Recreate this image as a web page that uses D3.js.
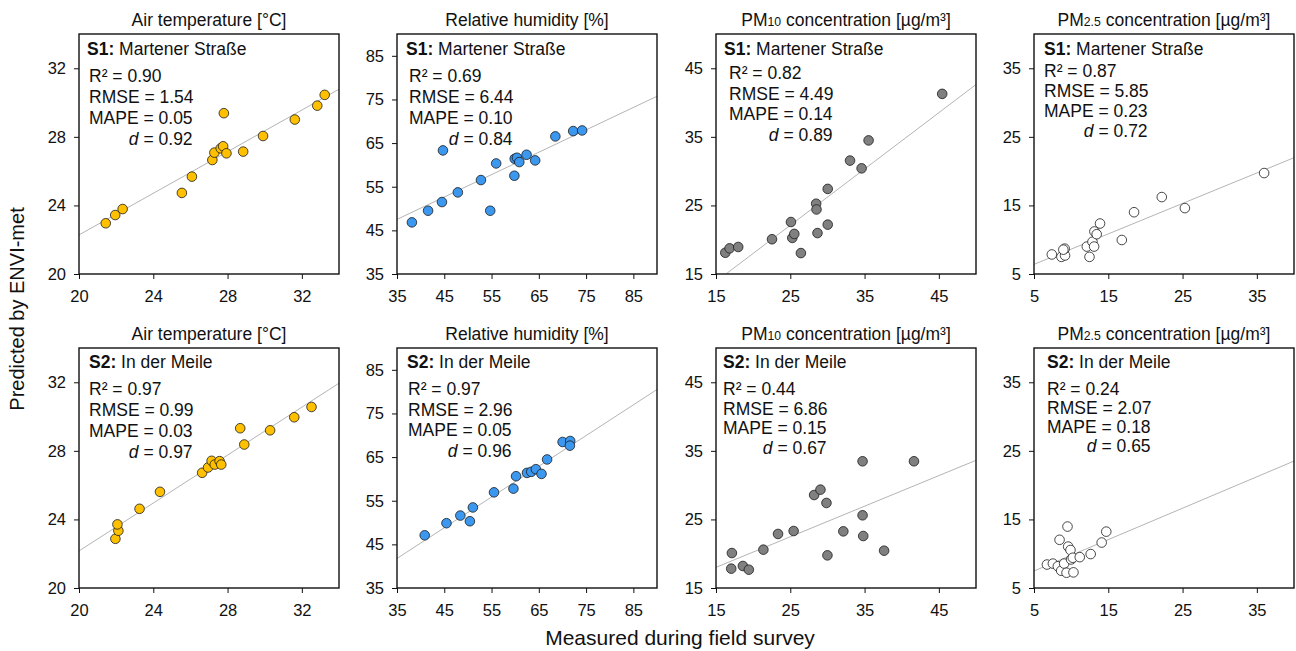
<!DOCTYPE html>
<html><head><meta charset="utf-8">
<script src="https://cdn.jsdelivr.net/npm/d3@7"></script>
<style>body{margin:0;background:#fff}svg{font-family:"Liberation Sans",Arial,sans-serif}</style>
</head><body><svg id="c" width="1296" height="651"></svg>
<script>
// ---------- data ----------
const variables = ["temp", "rh", "pm10", "pm25"];
const titles = ["Air temperature [°C]", "Relative humidity [%]", "PM|10| concentration [µg/m³]", "PM|2.5| concentration [µg/m³]"];
const domains = [[20, 34], [35, 90], [15, 50], [5, 40]];
const tickVals = [[20, 24, 28, 32], [35, 45, 55, 65, 75, 85], [15, 25, 35, 45], [5, 15, 25, 35]];
const fills = ["#FFC000", "#3C97EE", "#808080", "#FFFFFF"];
const sites = ["S1", "S2"];
const siteNames = ["Martener Straße", "In der Meile"];

// S1 Martener Straße
const s1TempMeas = [21.44, 21.95, 22.35, 25.54, 26.08, 27.18, 27.29, 27.63, 27.76, 27.94, 27.80, 28.84, 29.91, 31.62, 32.83, 33.23];
const s1TempPred = [22.96, 23.44, 23.79, 24.73, 25.68, 26.65, 27.08, 27.33, 27.45, 27.04, 29.38, 27.14, 28.05, 29.01, 29.82, 30.45];
const s1RhMeas = [38.15, 41.57, 44.51, 44.72, 47.87, 52.76, 54.72, 55.98, 59.83, 59.90, 60.38, 60.87, 62.41, 64.23, 68.50, 72.27, 74.16];
const s1RhPred = [46.83, 49.50, 51.49, 63.32, 53.70, 56.53, 49.50, 60.34, 57.52, 61.41, 61.64, 60.65, 62.33, 61.03, 66.53, 67.75, 67.90];
const s1Pm10Meas = [16.25, 16.83, 17.99, 22.54, 25.09, 25.27, 25.54, 26.43, 28.48, 28.53, 28.66, 30.04, 30.04, 33.04, 34.60, 35.54, 45.45];
const s1Pm10Pred = [18.10, 18.74, 18.94, 20.07, 22.58, 20.26, 20.85, 18.05, 25.25, 24.41, 20.97, 27.41, 22.20, 31.54, 30.41, 34.48, 41.27];
const s1Pm25Meas = [7.40, 8.69, 9.18, 9.13, 8.95, 12.11, 12.47, 12.87, 13.09, 13.13, 13.44, 13.89, 16.82, 18.47, 22.20, 25.31, 35.98];
const s1Pm25Pred = [7.85, 7.50, 7.70, 8.70, 8.55, 9.00, 7.50, 9.70, 9.00, 11.20, 10.80, 12.36, 9.96, 14.01, 16.22, 14.61, 19.72];

// S2 In der Meile
const s2TempMeas = [21.96, 22.12, 22.07, 23.26, 24.36, 26.63, 26.95, 27.14, 27.31, 27.57, 27.66, 28.68, 28.90, 30.29, 31.59, 32.52];
const s2TempPred = [22.87, 23.34, 23.71, 24.62, 25.61, 26.72, 27.03, 27.42, 27.20, 27.40, 27.20, 29.32, 28.37, 29.20, 29.96, 30.56];
const s2RhMeas = [40.86, 45.47, 48.40, 50.42, 51.05, 55.52, 59.63, 60.19, 62.50, 63.40, 64.38, 65.57, 66.75, 70.03, 71.64, 71.57];
const s2RhPred = [47.08, 49.85, 51.60, 50.30, 53.46, 56.92, 57.77, 60.62, 61.38, 61.62, 62.23, 61.15, 64.46, 68.46, 68.69, 67.62];
const s2Pm10Meas = [17.05, 17.14, 18.62, 19.42, 21.38, 23.35, 25.45, 28.21, 29.06, 29.87, 30.00, 32.14, 34.73, 34.82, 34.73, 37.63, 41.65];
const s2Pm10Pred = [17.82, 20.10, 18.21, 17.67, 20.59, 22.88, 23.31, 28.56, 29.34, 27.40, 19.76, 23.26, 25.60, 22.58, 33.48, 20.44, 33.48];
const s2Pm25Meas = [6.74, 7.54, 8.44, 8.21, 8.66, 9.06, 9.51, 9.60, 9.91, 9.38, 9.99, 10.22, 10.31, 11.16, 12.63, 14.11, 14.73];
const s2Pm25Pred = [8.42, 8.56, 12.03, 8.17, 7.52, 8.56, 13.96, 11.04, 10.54, 7.23, 9.16, 9.41, 7.28, 9.50, 9.95, 11.63, 13.22];

// regression lines (slope, intercept), row-major
const fitSlopes = [0.607, 0.513, 0.821, 0.4445, 0.699, 0.704, 0.446, 0.458];
const fitIntercepts = [10.14, 29.56, 1.58, 4.18, 8.18, 17.13, 11.32, 5.19];

// statistics, row-major
const statR2 = ["0.90", "0.69", "0.82", "0.87", "0.97", "0.97", "0.44", "0.24"];
const statRMSE = ["1.54", "6.44", "4.49", "5.85", "0.99", "2.96", "6.86", "2.07"];
const statMAPE = ["0.05", "0.10", "0.14", "0.23", "0.03", "0.05", "0.15", "0.18"];
const statD = ["0.92", "0.84", "0.89", "0.72", "0.97", "0.96", "0.67", "0.65"];

const measured = [s1TempMeas, s1RhMeas, s1Pm10Meas, s1Pm25Meas, s2TempMeas, s2RhMeas, s2Pm10Meas, s2Pm25Meas];
const predicted = [s1TempPred, s1RhPred, s1Pm10Pred, s1Pm25Pred, s2TempPred, s2RhPred, s2Pm10Pred, s2Pm25Pred];

// ---------- layout ----------
const colLeft = [79, 397, 716, 1034];
const panelW = 260;
const rowTop = [34, 348];
const panelH = 240;
const annSx = [8, 9, 8, 10, 10, 10, 7, 13];
const annStatDx = [10, 12, 13, 10, 10, 11, 7, 13];
const annR2Dy = [48, 48, 45, 43, 47, 47, 47, 47];
const annGap = [21, 21, 20.5, 20, 21, 20.5, 19.5, 19];
const fsAnn = 17.5, fsTitle = 17.5, fsTick = 16.5, fsAxisY = 20, fsAxisX = 21;

const svg = d3.select("#c");

for (let r = 0; r < 2; r++) {
  for (let c = 0; c < 4; c++) {
    const i = r * 4 + c;
    const x0 = colLeft[c], y0 = rowTop[r];
    const x = d3.scaleLinear().domain(domains[c]).range([x0, x0 + panelW]);
    const y = d3.scaleLinear().domain(domains[c]).range([y0 + panelH, y0]);
    const g = svg.append("g");

    // title
    const parts = titles[c].split("|");
    const t = g.append("text").attr("x", x0 + panelW / 2).attr("y", y0 - 8)
      .attr("text-anchor", "middle").attr("font-size", fsTitle).attr("fill", "#111");
    parts.forEach((p, k) => {
      t.append("tspan").attr("font-size", k === 1 ? fsTitle * 0.7 : fsTitle).text(p);
    });

    // clip
    const cid = "clip" + i;
    svg.append("clipPath").attr("id", cid).append("rect")
      .attr("x", x0).attr("y", y0).attr("width", panelW).attr("height", panelH);

    // regression line
    const d0 = domains[c][0], d1 = domains[c][1];
    g.append("line").attr("clip-path", `url(#${cid})`)
      .attr("x1", x(d0)).attr("y1", y(fitSlopes[i] * d0 + fitIntercepts[i]))
      .attr("x2", x(d1)).attr("y2", y(fitSlopes[i] * d1 + fitIntercepts[i]))
      .attr("stroke", "#ababab").attr("stroke-width", 0.9);

    // points
    g.append("g").attr("clip-path", `url(#${cid})`).selectAll("circle")
      .data(measured[i].map((m, k) => [m, predicted[i][k]]))
      .join("circle")
      .attr("cx", d => x(d[0])).attr("cy", d => y(d[1])).attr("r", 4.8)
      .attr("fill", fills[c]).attr("stroke", "#1a1a1a").attr("stroke-width", 0.8);

    // axes
    const ax = g.append("g").attr("transform", `translate(0,${y0 + panelH})`)
      .call(d3.axisBottom(x).tickValues(tickVals[c]).tickSize(5).tickPadding(11));
    const ay = g.append("g").attr("transform", `translate(${x0},0)`)
      .call(d3.axisLeft(y).tickValues(tickVals[c]).tickSize(5).tickPadding(8));
    [ax, ay].forEach(a => {
      a.select(".domain").remove();
      a.selectAll("text").attr("font-size", fsTick).attr("fill", "#111")
        .attr("font-family", '"Liberation Sans",Arial,sans-serif');
      a.selectAll("line").attr("stroke", "#111").attr("stroke-width", 1);
    });

    // frame
    g.append("rect").attr("x", x0).attr("y", y0).attr("width", panelW).attr("height", panelH)
      .attr("fill", "none").attr("stroke", "#111").attr("stroke-width", 1.4);

    // annotation
    const head = g.append("text").attr("x", x0 + annSx[i]).attr("y", y0 + (r === 0 ? 21 : 20))
      .attr("font-size", fsAnn).attr("fill", "#111");
    head.append("tspan").attr("font-weight", "bold").text(sites[r] + ":");
    head.append("tspan").text(" " + siteNames[r]);

    const sx = x0 + annStatDx[i];
    const sy = y0 + annR2Dy[i];
    const gap = annGap[i];
    g.append("text").attr("x", sx).attr("y", sy).attr("font-size", fsAnn).attr("fill", "#111")
      .text("R² = " + statR2[i]);
    g.append("text").attr("x", sx).attr("y", sy + gap).attr("font-size", fsAnn).attr("fill", "#111")
      .text("RMSE = " + statRMSE[i]);
    const mape = g.append("text").attr("x", sx).attr("y", sy + 2 * gap).attr("font-size", fsAnn).attr("fill", "#111")
      .text("MAPE = " + statMAPE[i]);
    const mw = mape.node().getComputedTextLength();
    const dt = g.append("text").attr("x", sx + mw).attr("y", sy + 3 * gap).attr("font-size", fsAnn)
      .attr("fill", "#111").attr("text-anchor", "end");
    dt.append("tspan").attr("font-style", "italic").text("d");
    dt.append("tspan").text(" = " + statD[i]);
  }
}

// axis titles
svg.append("text").attr("transform", "translate(24,309) rotate(-90)")
  .attr("text-anchor", "middle").attr("font-size", fsAxisY).attr("fill", "#111")
  .text("Predicted by ENVI-met");
svg.append("text").attr("x", 680).attr("y", 645)
  .attr("text-anchor", "middle").attr("font-size", fsAxisX).attr("fill", "#111")
  .text("Measured during field survey");
</script></body></html>
